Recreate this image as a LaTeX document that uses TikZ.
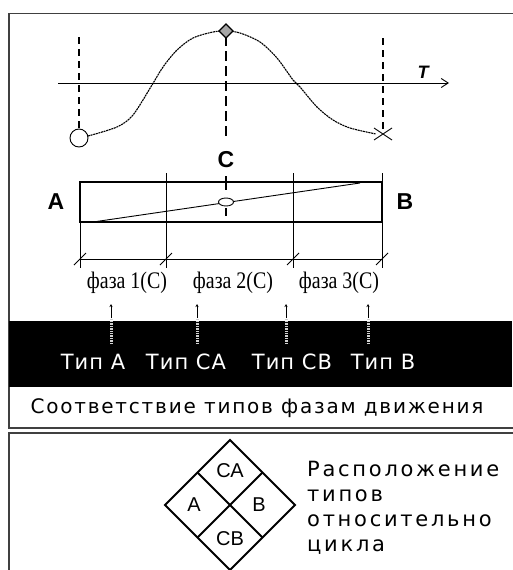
\documentclass[tikz,border=0pt]{standalone}
\usepackage{fontspec}
\setmainfont{Liberation Serif}
\setsansfont{Liberation Sans}
\newfontfamily\capfont[LetterSpace=9]{DejaVu Sans}
\newfontfamily\notefont[LetterSpace=13]{DejaVu Sans}
\newfontfamily\typefont[LetterSpace=5]{DejaVu Sans}
\usetikzlibrary{arrows.meta}
\tikzset{
  panel/.style={draw=black!75, line width=1.5pt},
  guide/.style={line width=2pt, dash pattern=on 7pt off 5pt},
  pointlbl/.style={font=\sffamily\bfseries\fontsize{23}{23}\selectfont, inner sep=0pt},
  phaselbl/.style={font=\fontsize{19}{19}\selectfont, inner sep=0pt, yscale=1.25, xscale=1.05},
  typelbl/.style={font=\typefont\fontsize{21}{21}\selectfont, text=white, inner sep=0pt},
  celllbl/.style={font=\sffamily\fontsize{20}{20}\selectfont, inner sep=0pt},
  hatch/.style={gray!35, line width=3pt, dash pattern=on 1.4pt off 1pt},
}
\begin{document}
\begin{tikzpicture}[x=1pt, y=-1pt, >=Stealth]
  \useasboundingbox (0,0) rectangle (512,570);
  % panels
  \draw[panel] (520,13.5) -- (9,13.5) -- (9,428) -- (520,428);
  \draw[panel] (520,433) -- (9,433) -- (9,580);
  \fill[black] (8.5,321) rectangle (512,387);
  % time axis
  \draw[line width=0.9pt, -{Straight Barb[length=7pt, width=9pt]}] (58,83) -- (449,83);
  \node[font=\sffamily\bfseries\itshape\fontsize{18}{18}\selectfont, inner sep=0pt] (tlbl) at (423,72) {T};
  % guide lines
  \draw[guide] (79,37) -- (79,128);
  \draw[guide] (383,38) -- (383,130);
  \draw[guide, dash pattern=on 10pt off 5pt] (226,36) -- (226,140);
  % the curve
  \draw[line width=1.1pt, dash pattern=on 2pt off 0.7pt] plot[smooth] coordinates {(88,136) (117,127) (133,115) (152,85) (163,67) (177,50) (193,38) (213,32) (226,31) (240,33) (260,42) (277,58) (293,80) (300,87) (317,107) (333,120) (350,128) (376,134)};
  \draw[fill=white, line width=0.9pt] (79,138) circle (9);
  \draw[line width=0.9pt] (374,128) -- (392,140) (374,140) -- (392,128);
  \draw[fill=gray!70, line width=1.4pt] (219,31) -- (226,24) -- (233,31) -- (226,38) -- cycle;
  % the bar
  \node[pointlbl] (clbl) at (226,160) {C};
  \node[pointlbl] (albl) at (56,202) {A};
  \node[pointlbl] (blbl) at (405,202) {B};
  \draw[line width=0.8pt] (80,182) -- (80,268) (166,173) -- (166,268) (293,173) -- (293,268) (382,173) -- (382,268);
  \draw[line width=0.9pt] (93,222) -- (360,183);
  \draw[line width=2.2pt] (80,182) rectangle (382,222);
  \draw[line width=2.2pt] (226,176) -- (226,190) (226,208) -- (226,216);
  \draw[fill=white, line width=0.9pt] (226,202) ellipse (7.5 and 4);
  % dimension line
  \draw[line width=0.8pt] (80,259) -- (382,259);
  \foreach \x in {80,166,293,382} \draw[line width=0.8pt] (\x-6,265) -- (\x+6,253);
  \node[phaselbl] (ph1) at (127,283) {фаза 1(С)};
  \node[phaselbl] (ph2) at (233,283) {фаза 2(С)};
  \node[phaselbl] (ph3) at (339,283) {фаза 3(С)};
  % types
  \node[typelbl] (ta) at (93,362) {Тип А};
  \node[typelbl] (tca) at (186,362) {Тип СА};
  \node[typelbl] (tcb) at (292,362) {Тип СВ};
  \node[typelbl] (tb) at (383,362) {Тип В};
  \foreach \x/\n in {111/ta,197/tca,286/tcb,368/tb} {
    \coordinate (\n-foot) at (\x,344);
    \coordinate (\n-head) at (\x,304);
    \draw[hatch] (\n-foot) -- (\x,318);
    \draw[line width=0.6pt, -{Stealth[length=3pt, width=3pt]}] (\x,318) -- (\n-head);
  }
  \node[font=\capfont\fontsize{20}{20}\selectfont, inner sep=0pt] (caption) at (257,408) {Соответствие типов фазам движения};
  % cycle diamond
  \draw[line width=2pt] (230,440) -- (295,505) -- (230,570) -- (165,505) -- cycle;
  \draw[line width=2pt] (197.5,472.5) -- (262.5,537.5) (262.5,472.5) -- (197.5,537.5);
  \node[celllbl] (dca) at (230,471) {СА};
  \node[celllbl] (da) at (194,505) {А};
  \node[celllbl] (db) at (259,505) {В};
  \node[celllbl] (dcb) at (230,539) {СВ};
  \node[font=\notefont\fontsize{21}{25}\selectfont, align=left, anchor=north west, inner sep=0pt] (note) at (307,461) {Расположение\\типов\\относительно\\цикла};
\end{tikzpicture}
\end{document}
